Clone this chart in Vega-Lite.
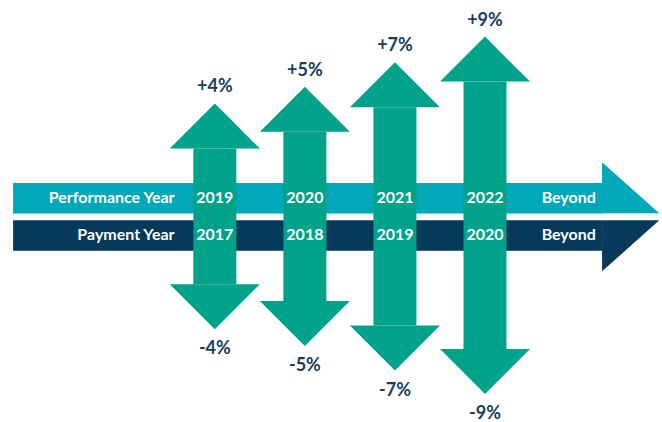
{
  "$schema": "https://vega.github.io/schema/vega-lite/v6.json",
  "width": 662,
  "height": 422,
  "autosize": {"type": "fit", "contains": "padding"},
  "padding": 0,
  "background": "white",
  "config": {"view": {"stroke": null}, "text": {"font": "Lato"}},
  "datasets": {
    "bands": [
      {"row": "Performance Year", "from": -1.24, "to": 5.3, "top": 34, "bottom": 3, "textY": 19, "tail": "Beyond"},
      {"row": "Payment Year", "from": -1.24, "to": 5.3, "top": -4, "bottom": -35, "textY": -19, "tail": "Beyond"}
    ],
    "arrows": [
      {"col": 1, "perf": "2019", "pay": "2017", "up": 69, "down": -69, "gain": "+4%", "loss": "-4%"},
      {"col": 2, "perf": "2020", "pay": "2018", "up": 86, "down": -86, "gain": "+5%", "loss": "-5%"},
      {"col": 3, "perf": "2021", "pay": "2019", "up": 111, "down": -111, "gain": "+7%", "loss": "-7%"},
      {"col": 4, "perf": "2022", "pay": "2020", "up": 137, "down": -135, "gain": "+9%", "loss": "-9%"}
    ]
  },
  "encoding": {},
  "layer": [
    {
      "data": {"name": "bands"},
      "mark": {"type": "bar"},
      "encoding": {
        "x": {"field": "from", "type": "quantitative", "scale": {"domain": [-1.33, 5.91], "nice": false, "zero": false}, "axis": null},
        "x2": {"field": "to"},
        "y": {"field": "top", "type": "quantitative", "scale": {"domain": [-202, 220], "nice": false, "zero": false}, "axis": null},
        "y2": {"field": "bottom"},
        "color": {"field": "row", "type": "nominal", "scale": {"domain": ["Performance Year", "Payment Year"], "range": ["#00A8B8", "#07395A"]}, "legend": null}
      }
    },
    {
      "data": {"name": "bands"},
      "mark": {"type": "point", "filled": true, "opacity": 1, "strokeWidth": 0, "size": 11881},
      "encoding": {
        "x": {"field": "to", "type": "quantitative"},
        "y": {"datum": -0.5, "type": "quantitative"},
        "shape": {"field": "row", "type": "nominal", "scale": {"domain": ["Performance Year", "Payment Year"], "range": ["M0,-1L1.05,-0.064L0,-0.064Z", "M0,0.064L1.05,0.064L0,1Z"]}, "legend": null},
        "color": {"field": "row", "type": "nominal", "legend": null}
      }
    },
    {
      "data": {"name": "bands"},
      "mark": {"type": "text", "align": "right", "baseline": "middle", "fontSize": 16, "fontWeight": "bold", "color": "white"},
      "encoding": {
        "x": {"datum": 0.553, "type": "quantitative"},
        "y": {"field": "textY", "type": "quantitative"},
        "text": {"field": "row"}
      }
    },
    {
      "data": {"name": "bands"},
      "mark": {"type": "text", "align": "center", "baseline": "middle", "fontSize": 16, "fontWeight": "bold", "color": "white"},
      "encoding": {
        "x": {"datum": 4.93, "type": "quantitative"},
        "y": {"field": "textY", "type": "quantitative"},
        "text": {"field": "tail"}
      }
    },
    {
      "data": {"name": "arrows"},
      "mark": {"type": "bar", "width": 43, "color": "#00A389"},
      "encoding": {
        "x": {"field": "col", "type": "quantitative"},
        "y": {"field": "up", "type": "quantitative"},
        "y2": {"field": "down"}
      }
    },
    {
      "data": {"name": "arrows"},
      "mark": {"type": "point", "filled": true, "opacity": 1, "strokeWidth": 0, "size": 8100, "shape": "M-1,0L0,-1L1,0Z", "color": "#00A389"},
      "encoding": {
        "x": {"field": "col", "type": "quantitative"},
        "y": {"field": "up", "type": "quantitative"}
      }
    },
    {
      "data": {"name": "arrows"},
      "mark": {"type": "point", "filled": true, "opacity": 1, "strokeWidth": 0, "size": 8100, "shape": "M-1,0L0,1L1,0Z", "color": "#00A389"},
      "encoding": {
        "x": {"field": "col", "type": "quantitative"},
        "y": {"field": "down", "type": "quantitative"}
      }
    },
    {
      "data": {"name": "arrows"},
      "mark": {"type": "text", "align": "center", "baseline": "middle", "fontSize": 16, "fontWeight": "bold", "color": "white"},
      "encoding": {
        "x": {"field": "col", "type": "quantitative"},
        "y": {"datum": 19, "type": "quantitative"},
        "text": {"field": "perf"}
      }
    },
    {
      "data": {"name": "arrows"},
      "mark": {"type": "text", "align": "center", "baseline": "middle", "fontSize": 16, "fontWeight": "bold", "color": "white"},
      "encoding": {
        "x": {"field": "col", "type": "quantitative"},
        "y": {"datum": -19, "type": "quantitative"},
        "text": {"field": "pay"}
      }
    },
    {
      "data": {"name": "arrows"},
      "mark": {"type": "text", "align": "center", "baseline": "middle", "dy": -61, "fontSize": 18, "fontWeight": "bold", "color": "#173D5E"},
      "encoding": {
        "x": {"field": "col", "type": "quantitative"},
        "y": {"field": "up", "type": "quantitative"},
        "text": {"field": "gain"}
      }
    },
    {
      "data": {"name": "arrows"},
      "mark": {"type": "text", "align": "center", "baseline": "middle", "dy": 65, "fontSize": 18, "fontWeight": "bold", "color": "#173D5E"},
      "encoding": {
        "x": {"field": "col", "type": "quantitative"},
        "y": {"field": "down", "type": "quantitative"},
        "text": {"field": "loss"}
      }
    }
  ]
}
